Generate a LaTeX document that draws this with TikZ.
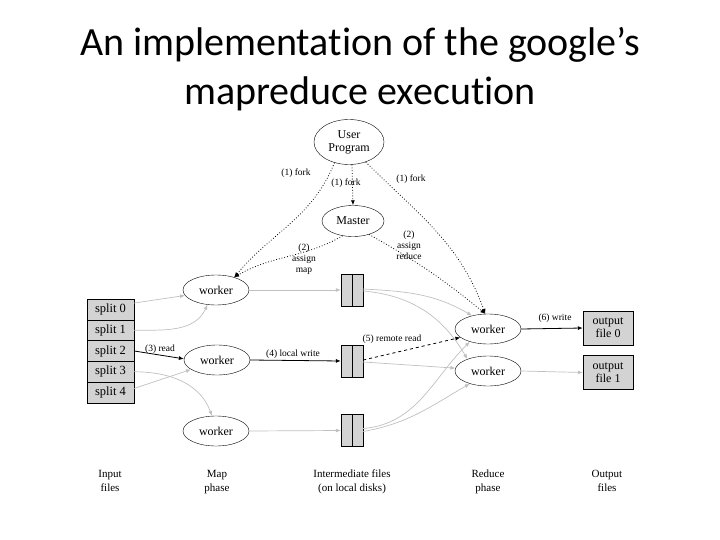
\documentclass[tikz,border=0pt]{standalone}
\usepackage{fontspec}
\setmainfont{Liberation Serif}
\newfontfamily\titlefont[Ligatures=NoCommon]{Carlito}
\usetikzlibrary{shapes.geometric,arrows.meta}
\definecolor{lg}{RGB}{192,192,192}
\definecolor{boxfill}{RGB}{211,211,211}
\begin{document}
\begin{tikzpicture}[x=1pt,y=-1pt,
 ell/.style={ellipse,draw,inner sep=0pt,align=center,font=\fontsize{12}{13}\selectfont},
 wk/.style={ell,minimum width=66pt,minimum height=30pt},
 lbl/.style={font=\fontsize{9.5}{11}\selectfont,align=center,inner sep=1pt},
 tip/.style={-{Latex[length=5pt,width=4pt]}},
 blk/.style={tip,line width=0.8pt},
 gry/.style={tip,draw=lg,line width=0.7pt},
 dot/.style={tip,dotted,line width=0.8pt},
 splitbox/.style={draw,fill=boxfill,minimum width=47pt,minimum height=20.8pt,inner sep=0pt,font=\fontsize{12.5}{13}\selectfont},
 filebox/.style={draw,fill=boxfill,minimum width=22pt,minimum height=32pt,inner sep=0pt},
 outbox/.style={draw,fill=boxfill,minimum width=50pt,minimum height=34pt,inner sep=0pt,align=center,font=\fontsize{12}{13}\selectfont},
 bot/.style={align=center,font=\fontsize{11}{14}\selectfont}]
\useasboundingbox (0,0) rectangle (720,540);
% title
\node[anchor=base,font=\titlefont\fontsize{40}{48}\selectfont,inner sep=0pt] (t1) at (360,56) {An implementation of the google’s};
\node[anchor=base,font=\titlefont\fontsize{40}{48}\selectfont,inner sep=0pt] (t2) at (360,105) {mapreduce execution};
% nodes
\node[ell,minimum width=70pt,minimum height=45pt] (up) at (349,142) {User\\Program};
\node[ell,minimum width=62pt,minimum height=31pt] (ma) at (353,221) {Master};
\node[wk] (w1) at (216,290) {worker};
\node[wk] (w2) at (217,360) {worker};
\node[wk] (w3) at (216,431) {worker};
\node[wk] (r0) at (488,329) {worker};
\node[wk] (r1) at (488,371) {worker};
\node[splitbox] (s0) at (110.5,309.4) {split 0};
\node[splitbox] (s1) at (110.5,330.2) {split 1};
\node[splitbox] (s2) at (110.5,351.0) {split 2};
\node[splitbox] (s3) at (110.5,371.8) {split 3};
\node[splitbox] (s4) at (110.5,392.6) {split 4};
\node[filebox] (f1) at (352,290) {};
\node[filebox] (f2) at (352,361) {};
\node[filebox] (f3) at (352,430.5) {};
\draw (f1.north) -- (f1.south);
\draw (f2.north) -- (f2.south);
\draw (f3.north) -- (f3.south);
\node[outbox] (o0) at (608,328) {output\\file 0};
\node[outbox] (o1) at (608,372.5) {output\\file 1};
% bottom labels
\node[bot] (l1) at (110,482) {\strut Input\\\strut files};
\node[bot] (l2) at (217,482) {\strut Map\\\strut phase};
\node[bot] (l3) at (352,482) {\strut Intermediate files\\\strut (on local disks)};
\node[bot] (l4) at (488,482) {\strut Reduce\\\strut phase};
\node[bot] (l5) at (607,482) {\strut Output\\\strut files};
% fork / assign
\draw[dot] (up.south) ++(3,0) -- (ma.north);
\draw[dot] (up.235) to[out=-112,in=50] (w1.35);
\draw[dot] (up.-50) to[out=-45,in=110] (r0.100);
\draw[dot] (ma.235) to[out=-150,in=30] (w1.35);
\draw[dot] (ma.-40) to[bend left=5] (r0.100);
\node[lbl] (k1) at (346,183) {(1) fork};
\node[lbl] (k2) at (296,173) {(1) fork};
\node[lbl] (k3) at (411,179) {(1) fork};
\node[lbl] (k4) at (304,259) {(2)\\assign\\map};
\node[lbl] (k5) at (409,245) {(2)\\assign\\reduce};
% input reads
\draw[gry] (s0.15) -- (w1.190);
\draw[gry] (s1.east) to[out=0,in=-115] (w1.240);
\draw[blk] (s2.east) -- (w2.178);
\draw[gry] (s3.east) to[out=0,in=110] (w3.105);
\draw[gry] (s4.10) -- (w2.200);
\node[lbl] (k6) at (160,349) {(3) read};
% local writes
\draw[gry] (w1.east) -- (f1.west);
\draw[blk] (w2.east) -- (f2.west);
\draw[gry] (w3.east) -- (f3.west);
\node[lbl] (k7) at (293,354) {(4) local write};
% remote reads
\draw[gry] (f1.5) to[out=-3,in=150] (r0.140);
\draw[gry] (f1.-5) to[out=-5,in=120] (r1.150);
\draw[gry] (f2.-5) -- (r1.175);
\draw[blk,dashed] (f2.5) -- (r0.197);
\draw[gry] (f3.10) to[out=5,in=-135] (r0.215);
\draw[gry] (f3.-5) to[out=10,in=-150] (r1.215);
\node[lbl] (k8) at (392,339) {(5) remote read};
% output writes
\draw[blk] (r0.east) -- (o0.west);
\draw[gry] (r1.east) -- (o1.west);
\node[lbl] (k9) at (555,318) {(6) write};
\end{tikzpicture}
\end{document}
